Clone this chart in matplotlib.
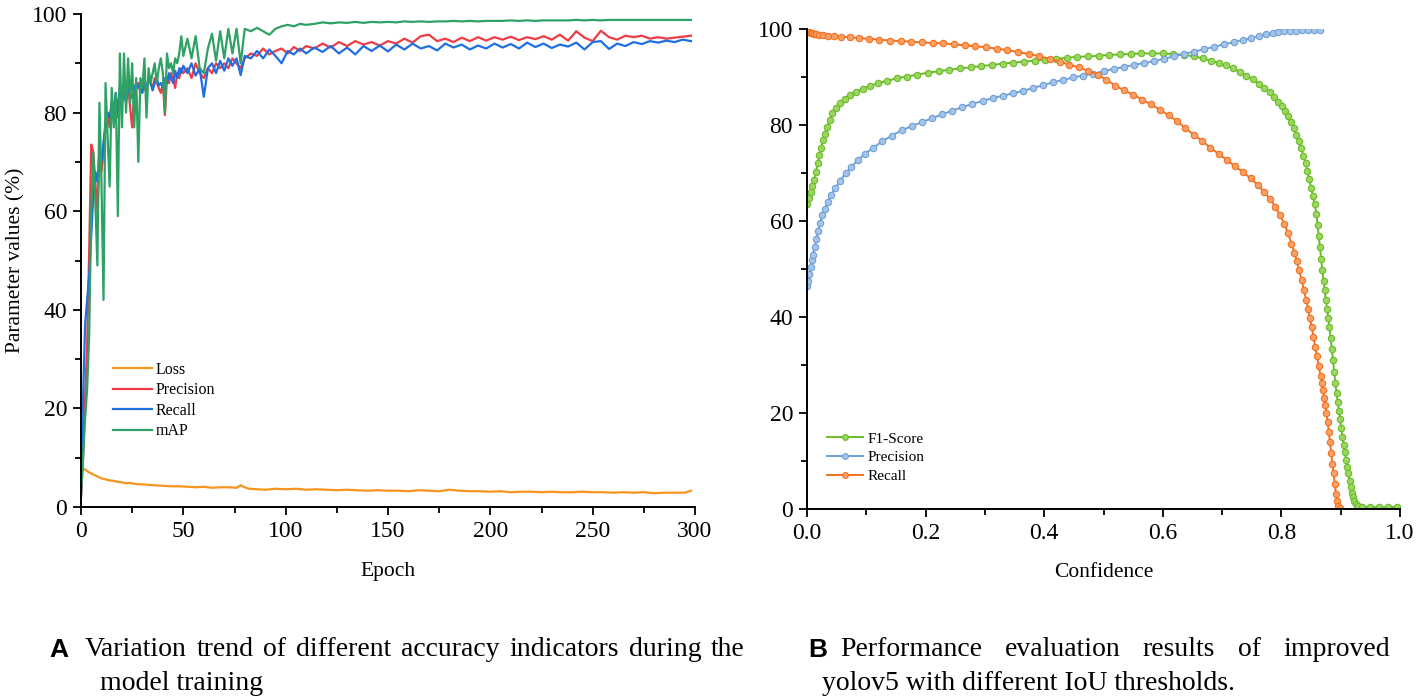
import matplotlib
matplotlib.use("Agg")
import matplotlib.pyplot as plt
from matplotlib.ticker import MultipleLocator, FormatStrFormatter

plt.rcParams['font.family'] = ['Liberation Serif', 'DejaVu Serif']

# ---------------- Panel A data ----------------
epochs_acc = (list(range(0, 51)) + list(range(52, 81, 2)) +
              list(range(83, 111, 3)) + list(range(114, 299, 4)))

map_vals = [2, 10, 18, 24, 35, 60, 72, 62, 49, 82,
            66, 42, 86, 75, 65, 85, 77, 84, 59, 92,
            77, 92, 80, 91, 82, 90, 77, 87, 70, 87,
            85, 91, 79, 89, 86, 88, 90, 86, 89, 91,
            88, 80, 92, 89, 90, 88, 91, 90, 92, 95.5,
            91.5,
            95, 91, 95.5, 89, 88, 93, 96, 90.5, 96.5, 91, 97, 92, 97, 90, 97,
            96.5, 97.2, 96.5, 95.8, 97, 97.5, 97.8, 97.5, 98, 97.8,
            98.0, 98.3, 98.1, 98.3, 98.2, 98.4, 98.2, 98.4, 98.3, 98.4,
            98.3, 98.5, 98.4, 98.5, 98.4, 98.5, 98.5, 98.6, 98.5, 98.6,
            98.5, 98.6, 98.6, 98.6, 98.7, 98.6, 98.7, 98.6, 98.7, 98.7,
            98.7, 98.7, 98.8, 98.7, 98.8, 98.7, 98.8, 98.8, 98.8, 98.8,
            98.8, 98.8, 98.8, 98.8, 98.8, 98.8, 98.8]

precision_vals = [2, 10, 22, 33, 52, 73.5, 72, 66, 60, 70,
                  68, 72, 78, 80, 77, 82, 80, 83, 79, 85,
                  82, 84, 83, 86, 81, 77, 84, 85, 86, 84,
                  86, 85, 84, 87, 86, 85, 87, 86, 85, 84,
                  86, 79.5, 87, 86, 88, 87, 85, 88, 87, 89,
                  88,
                  89, 87, 90, 88, 87, 89, 88, 90, 89, 90, 89, 91, 90, 89, 91,
                  92, 91.5, 93, 91.8, 92.5, 93, 92, 93.3, 92.5, 93.5,
                  93, 94, 93.2, 94.3, 93.5, 94.5, 93.8, 94.3, 93.6, 94.5,
                  94, 95, 94.2, 95.5, 95.8, 94.5, 95, 94.3, 95.2, 94.5,
                  95.3, 94.6, 95.3, 94.8, 95.4, 94.7, 95.3, 94.9, 95.5, 94.8,
                  95.8, 94.6, 96.5, 95.2, 94.5, 96.6, 95.3, 94.8, 95.6, 95.3,
                  95.6, 95, 95.3, 95, 95.2, 95.4, 95.6]

recall_vals = [3, 22, 37, 42, 47, 55, 63, 68, 66, 72,
               70, 74, 78, 80, 79, 82, 81, 84, 80, 85,
               83, 84, 82, 85, 84, 83, 85, 86, 85, 86,
               84, 86, 85, 87, 86, 84.5, 86, 87, 85.5, 86,
               85, 87, 86, 88, 87, 86, 88.5, 87, 89, 88,
               89.5,
               88, 90, 87.5, 89, 83.2, 89, 90, 88, 90.5, 88.5, 91, 89.5, 91, 87.6, 91.5,
               91, 92.5, 91, 92.8, 91.5, 90, 92.5, 91.8, 93, 92,
               93.2, 92.3, 93.5, 92, 93.2, 91.8, 93.5, 92.5, 93.6, 92.4,
               93.8, 92.8, 94, 93, 93.5, 92.6, 94, 93.2, 93.8, 92.8,
               93.6, 93, 94, 93.2, 93.9, 93, 94.2, 93.3, 94, 93.1,
               93.8, 93.4, 94.2, 92.8, 94.3, 94.5, 92.9, 94, 93.5, 94.3,
               93.9, 94.5, 94.2, 94.6, 94.3, 94.8, 94.5]

epochs_loss = [0, 1, 2, 3, 4, 6, 8, 10, 12, 14,
               16, 18, 20, 22, 24, 26, 28, 30, 33, 36,
               40, 44, 48, 52, 56, 60, 64, 68, 72, 76,
               78, 80, 82, 86, 90, 95, 100, 105, 110, 115,
               120, 125, 130, 135, 140, 145, 150, 155, 160, 165,
               170, 175, 180, 185, 190, 195, 200, 205, 210, 215,
               220, 225, 230, 235, 240, 245, 250, 255, 260, 265,
               270, 275, 280, 285, 290, 295, 298]
loss_vals = [6.5, 7.8, 7.6, 7.3, 7.0, 6.6, 6.2, 5.8, 5.6, 5.4,
             5.3, 5.1, 5.0, 4.8, 4.9, 4.7, 4.6, 4.6, 4.5, 4.4,
             4.3, 4.2, 4.2, 4.1, 4.0, 4.1, 3.9, 4.0, 4.0, 3.9,
             4.4, 4.0, 3.7, 3.6, 3.5, 3.7, 3.6, 3.7, 3.5, 3.6,
             3.5, 3.4, 3.5, 3.4, 3.3, 3.4, 3.3, 3.3, 3.2, 3.4,
             3.3, 3.2, 3.5, 3.3, 3.2, 3.2, 3.1, 3.2, 3.0, 3.1,
             3.1, 3.0, 3.1, 3.0, 3.0, 3.1, 3.0, 3.0, 2.9, 3.0,
             2.9, 3.0, 2.8, 2.9, 2.9, 2.9, 3.3]

# ---------------- Panel B data ----------------
conf_f1 = [0.000, 0.003, 0.006, 0.009, 0.012, 0.015, 0.018, 0.021, 0.024, 0.027,
           0.030, 0.034, 0.038, 0.043, 0.049, 0.056, 0.064, 0.073, 0.083, 0.094,
           0.106, 0.120, 0.135, 0.151, 0.168, 0.186, 0.204, 0.222, 0.240, 0.258,
           0.276, 0.294, 0.312, 0.330, 0.348, 0.366, 0.384, 0.402, 0.420, 0.438,
           0.456, 0.474, 0.492, 0.510, 0.528, 0.546, 0.564, 0.582, 0.600, 0.618,
           0.636, 0.652, 0.667, 0.681, 0.694, 0.706, 0.718, 0.730, 0.741, 0.752,
           0.762, 0.771, 0.780, 0.788, 0.795, 0.801, 0.806, 0.811, 0.816, 0.821,
           0.825, 0.829, 0.833, 0.837, 0.841, 0.844, 0.847, 0.850, 0.853, 0.856,
           0.859, 0.861, 0.863, 0.865, 0.867, 0.869, 0.871, 0.873, 0.875, 0.877,
           0.879, 0.881, 0.883, 0.885, 0.887, 0.889, 0.891, 0.893, 0.895, 0.897,
           0.899, 0.901, 0.903, 0.905, 0.907, 0.909, 0.911, 0.913, 0.915, 0.917,
           0.919, 0.921, 0.923, 0.926, 0.930, 0.936, 0.950, 0.965, 0.980, 0.995]
f1_vals = [63.5, 64.8, 66.1, 67.3, 68.6, 70.3, 72.0, 73.7, 75.3, 76.9,
           78.2, 79.6, 81.0, 82.4, 83.5, 84.5, 85.4, 86.2, 86.9, 87.6,
           88.1, 88.7, 89.2, 89.7, 90.1, 90.5, 90.9, 91.2, 91.5, 91.8,
           92.0, 92.3, 92.5, 92.8, 93.0, 93.2, 93.4, 93.6, 93.8, 94.0,
           94.2, 94.3, 94.4, 94.6, 94.7, 94.8, 94.9, 94.9, 94.9, 94.8,
           94.6, 94.3, 93.9, 93.4, 92.9, 92.5, 91.8, 91.0, 90.3, 89.5,
           88.6, 87.7, 86.8, 85.8, 84.8, 83.9, 83.0, 81.9, 80.7, 79.4,
           78.0, 76.6, 75.2, 73.6, 72.0, 70.4, 68.7, 66.9, 65.3, 63.5,
           61.5, 59.2, 56.8, 54.5, 52.1, 49.8, 47.6, 45.6, 43.6, 41.7,
           39.8, 37.9, 35.6, 33.3, 31.0, 28.6, 26.2, 24.1, 22.3, 20.5,
           18.7, 16.9, 15.1, 13.4, 11.8, 10.3, 8.8, 7.4, 5.9, 4.6,
           3.4, 2.4, 1.6, 1.0, 0.6, 0.4, 0.4, 0.4, 0.4, 0.4]

conf_prec = [0.000, 0.002, 0.004, 0.006, 0.008, 0.010, 0.013, 0.016, 0.019, 0.022,
             0.026, 0.030, 0.035, 0.041, 0.048, 0.056, 0.065, 0.075, 0.086, 0.098,
             0.112, 0.127, 0.143, 0.160, 0.177, 0.194, 0.211, 0.228, 0.245, 0.262,
             0.279, 0.296, 0.313, 0.330, 0.347, 0.364, 0.381, 0.398, 0.415, 0.432,
             0.449, 0.466, 0.483, 0.500, 0.517, 0.534, 0.551, 0.568, 0.585, 0.602,
             0.619, 0.636, 0.653, 0.670, 0.687, 0.704, 0.720, 0.735, 0.749, 0.762,
             0.774, 0.785, 0.795, 0.805, 0.815, 0.825, 0.835, 0.845, 0.855, 0.865]
prec_vals = [46.5, 47.6, 49.0, 50.4, 51.8, 53.0, 54.6, 56.3, 58.0, 59.6,
             61.3, 62.6, 64.0, 65.5, 66.9, 68.4, 69.9, 71.3, 72.7, 74.0,
             75.3, 76.6, 77.8, 78.9, 79.8, 80.6, 81.4, 82.2, 83.0, 83.7,
             84.4, 85.0, 85.6, 86.1, 86.6, 87.1, 87.7, 88.3, 88.9, 89.4,
             89.9, 90.3, 90.7, 91.2, 91.7, 92.1, 92.5, 92.9, 93.3, 93.8,
             94.3, 94.8, 95.3, 95.8, 96.3, 96.8, 97.3, 97.7, 98.1, 98.5,
             98.9, 99.2, 99.4, 99.5, 99.6, 99.65, 99.7, 99.7, 99.7, 99.7]

conf_rec = [0.000, 0.003, 0.006, 0.009, 0.012, 0.016, 0.021, 0.027, 0.035, 0.045,
            0.058, 0.072, 0.088, 0.105, 0.122, 0.140, 0.158, 0.176, 0.194, 0.212,
            0.230, 0.248, 0.266, 0.284, 0.302, 0.320, 0.338, 0.356, 0.374, 0.392,
            0.409, 0.426, 0.442, 0.458, 0.474, 0.490, 0.505, 0.520, 0.535, 0.550,
            0.565, 0.580, 0.595, 0.610, 0.624, 0.638, 0.652, 0.666, 0.680, 0.694,
            0.708, 0.722, 0.735, 0.748, 0.760, 0.771, 0.781, 0.790, 0.798, 0.805,
            0.811, 0.817, 0.822, 0.826, 0.830, 0.834, 0.838, 0.842, 0.845, 0.848,
            0.851, 0.854, 0.857, 0.860, 0.863, 0.866, 0.868, 0.870, 0.872, 0.874,
            0.876, 0.878, 0.880, 0.882, 0.884, 0.886, 0.888, 0.890, 0.892, 0.894,
            0.896, 0.898]
rec_vals = [99.6, 99.4, 99.2, 99.1, 99.0, 98.9, 98.8, 98.7, 98.6, 98.5,
            98.4, 98.3, 98.1, 97.95, 97.8, 97.6, 97.5, 97.35, 97.2, 97.1,
            97.0, 96.8, 96.6, 96.4, 96.2, 95.9, 95.6, 95.2, 94.8, 94.3,
            93.8, 93.2, 92.6, 92.0, 91.3, 90.5, 89.4, 88.2, 87.2, 86.3,
            85.3, 84.3, 83.2, 82.0, 80.8, 79.3, 78.0, 76.7, 75.3, 74.0,
            72.7, 71.4, 70.2, 68.9, 67.5, 66.0, 64.6, 62.9, 61.2, 59.4,
            57.5, 55.3, 53.4, 51.6, 49.7, 47.7, 45.6, 43.5, 41.7, 39.8,
            37.9, 35.9, 33.8, 31.8, 29.8, 27.8, 26.3, 24.8, 23.2, 21.6,
            19.9, 18.1, 16.0, 13.9, 11.6, 9.4, 7.4, 5.3, 3.2, 1.6,
            0.6, 0.2]

# ---------------- Figure ----------------
W, H = 1424, 700
fig = plt.figure(figsize=(W / 100, H / 100), dpi=100)


def ax_rect(x0, y_top, x1, y_bot):
    return [x0 / W, 1 - y_bot / H, (x1 - x0) / W, (y_bot - y_top) / H]


axL = fig.add_axes(ax_rect(81, 14, 695, 507))
axR = fig.add_axes(ax_rect(807, 29, 1400, 509))

c_loss, c_prec, c_rec, c_map = '#f7941d', '#ef3b45', '#1f6fe0', '#2ea165'
axL.plot(epochs_loss, loss_vals, color=c_loss, lw=1.6, label='Loss')
axL.plot(epochs_acc, precision_vals, color=c_prec, lw=1.6, label='Precision')
axL.plot(epochs_acc, recall_vals, color=c_rec, lw=1.6, label='Recall')
axL.plot(epochs_acc, map_vals, color=c_map, lw=1.6, label='mAP')

c_f1, c_p2, c_r2 = '#6abb2a', '#6f9fd8', '#f4701f'
mk = dict(marker='o', markersize=4.6, markeredgewidth=0.8, lw=1.4)
axR.plot(conf_f1, f1_vals, color=c_f1, mfc='#9bd65e', mec=c_f1, label='F1-Score', **mk)
axR.plot(conf_prec, prec_vals, color=c_p2, mfc='#a5c4ea', mec=c_p2, label='Precision', **mk)
axR.plot(conf_rec, rec_vals, color=c_r2, mfc='#f9a066', mec=c_r2, label='Recall', **mk)

for ax in (axL, axR):
    for s in ('top', 'right'):
        ax.spines[s].set_visible(False)
    for s in ('left', 'bottom'):
        ax.spines[s].set_linewidth(1.4)
    ax.tick_params(which='major', direction='out', length=6, width=1.3,
                   labelsize=17, pad=4)
    ax.tick_params(which='minor', direction='out', length=4, width=1.3)
    ax.set_ylim(0, 100)
    ax.yaxis.set_major_locator(MultipleLocator(20))
    ax.yaxis.set_minor_locator(MultipleLocator(10))

axL.set_xlim(0, 300)
axL.xaxis.set_major_locator(MultipleLocator(50))
axL.xaxis.set_minor_locator(MultipleLocator(25))
axR.set_xlim(0, 1.0)
axR.xaxis.set_major_locator(MultipleLocator(0.2))
axR.xaxis.set_minor_locator(MultipleLocator(0.1))
axR.xaxis.set_major_formatter(FormatStrFormatter('%.1f'))

axL.set_xlabel('Epoch', fontsize=15.5)
axL.xaxis.set_label_coords(0.5, -0.112)
axL.set_ylabel('Parameter values (%)', fontsize=15.5)
axL.yaxis.set_label_coords(-0.09, 0.5)
axR.set_xlabel('Confidence', fontsize=15.5)
axR.xaxis.set_label_coords(0.5, -0.112)

legL = axL.legend(loc='upper left', bbox_to_anchor=(113 / W, 1 - 362 / H),
                  bbox_transform=fig.transFigure, frameon=False, fontsize=11.5,
                  borderpad=0, borderaxespad=0, handlelength=2.45,
                  handletextpad=0.2, labelspacing=0.28)
legR = axR.legend(loc='upper left', bbox_to_anchor=(827 / W, 1 - 432 / H),
                  bbox_transform=fig.transFigure, frameon=False, fontsize=11,
                  borderpad=0, borderaxespad=0, handlelength=2.35,
                  handletextpad=0.3, labelspacing=0.33, markerscale=0.9)

# ---------------- Captions (justified first lines) ----------------
renderer = fig.canvas.get_renderer()
cap_fs = 20


def justified(words, x0, x1, y):
    texts = [fig.text(0, 1 - y / H, w, fontsize=cap_fs, va='center', ha='left')
             for w in words]
    widths = [t.get_window_extent(renderer).width for t in texts]
    gap = (x1 - x0 - sum(widths)) / (len(words) - 1)
    x = x0
    for t, w in zip(texts, widths):
        t.set_x(x / W)
        x += w + gap


fig.text(49 / W, 1 - 650 / H, 'A', fontsize=19, fontweight='bold',
         family='Liberation Sans', va='center', ha='left')
justified('Variation trend of different accuracy indicators during the'.split(),
          85, 745, 650)
fig.text(100 / W, 1 - 683 / H, 'model training', fontsize=cap_fs,
         va='center', ha='left')

fig.text(808 / W, 1 - 650 / H, 'B', fontsize=19, fontweight='bold',
         family='Liberation Sans', va='center', ha='left')
justified('Performance evaluation results of improved'.split(), 840, 1390, 650)
fig.text(822 / W, 1 - 683 / H, 'yolov5 with different IoU thresholds.',
         fontsize=cap_fs, va='center', ha='left')

fig.savefig('out.png', dpi=100)
